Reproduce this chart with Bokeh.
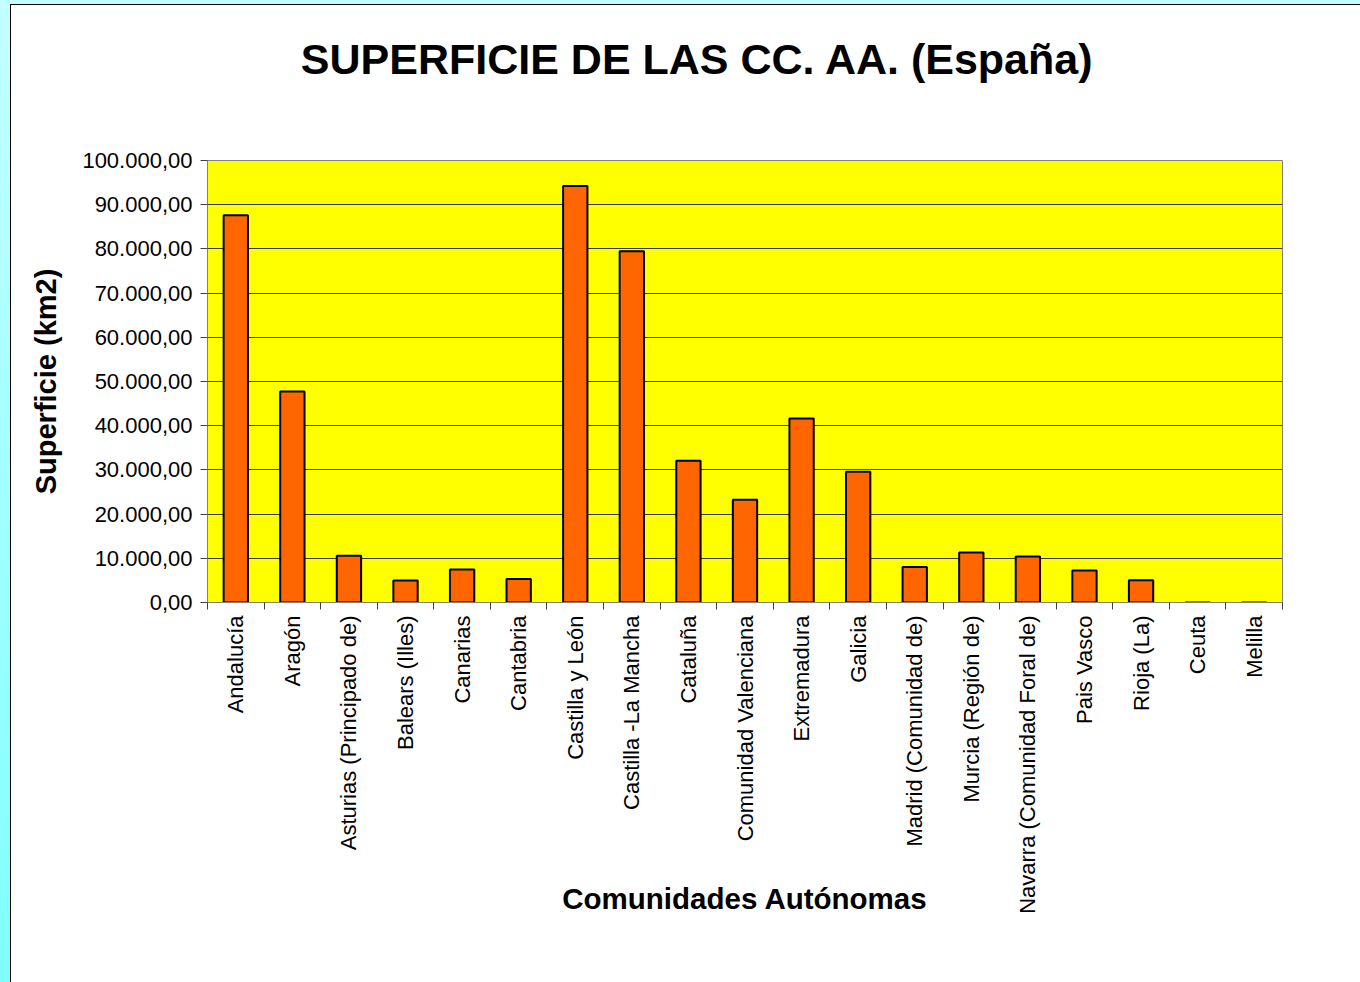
import math
from bokeh.plotting import figure
from bokeh.models import (Range1d, LinearAxis, FixedTicker, ColumnDataSource)
from bokeh.embed import file_html
from bokeh.resources import INLINE

comunidades = [
    "Andalucía", "Aragón", "Asturias (Principado de)", "Balears (Illes)",
    "Canarias", "Cantabria", "Castilla y León", "Castilla -La Mancha",
    "Cataluña", "Comunidad Valenciana", "Extremadura", "Galicia",
    "Madrid (Comunidad de)", "Murcia (Región de)",
    "Navarra (Comunidad Foral de)", "Pais Vasco", "Rioja (La)", "Ceuta",
    "Melilla",
]
superficie = [
    87597, 47720, 10604, 4992, 7447, 5321, 94226, 79461, 32091, 23255,
    41634, 29574, 8028, 11313, 10391, 7234, 5045, 19, 13,
]
y_ticks = [0, 10000, 20000, 30000, 40000, 50000, 60000, 70000, 80000, 90000, 100000]
y_tick_labels = ["0,00", "10.000,00", "20.000,00", "30.000,00", "40.000,00",
                 "50.000,00", "60.000,00", "70.000,00", "80.000,00",
                 "90.000,00", "100.000,00"]
titulo = "SUPERFICIE DE LAS CC. AA. (España)"
eje_x = "Comunidades Autónomas"
eje_y = "Superficie (km2)"

FONT = "Liberation Sans"
n = len(comunidades)
centers = [i + 0.5 for i in range(n)]
bounds = list(range(n + 1))
TITLE_X = 8.66  # horizontal centre of the title, in category units

W, H = 1360, 982
p = figure(
    x_range=Range1d(0, n),
    y_range=Range1d(0, 100000),
    width=W, height=H,
    output_backend="svg", toolbar_location=None,
    x_axis_location=None,
    min_border_left=207, min_border_right=78,
    min_border_top=160, min_border_bottom=380,
)

p.background_fill_color = "#FFFF00"
p.border_fill_color = "white"
p.border_fill_alpha = 0
p.styles = {
    "background": (
        "linear-gradient(#000,#000) 10px 4px / 1px 100% no-repeat, "
        "linear-gradient(#000,#000) 10px 4px / 100% 1px no-repeat, "
        "linear-gradient(to bottom, #C4FFFF, #80FFFF) 0 0 / 10px 100% no-repeat, "
        "linear-gradient(#C4FFFF,#C4FFFF) 0 0 / 100% 4px no-repeat, "
        "#FFFFFF"
    )
}
p.outline_line_color = "#808080"
p.outline_line_width = 1

p.xgrid.grid_line_color = None
p.ygrid.grid_line_color = "#3a3a3a"
p.ygrid.grid_line_width = 1
p.ygrid.ticker = FixedTicker(ticks=y_ticks)

# y axis
ya = p.yaxis[0]
ya.ticker = FixedTicker(ticks=y_ticks)
ya.major_label_overrides = dict(zip(y_ticks, y_tick_labels))
ya.major_label_text_font = FONT
ya.major_label_text_font_size = "22px"
ya.major_label_text_color = "black"
ya.major_label_standoff = 8
ya.major_tick_out = 7
ya.major_tick_in = 0
ya.major_tick_line_color = "#404040"
ya.minor_tick_line_color = None
ya.axis_line_color = "#808080"
ya.axis_label = eje_y
ya.axis_label_text_font = FONT
ya.axis_label_text_font_size = "29px"
ya.axis_label_text_font_style = "bold"
ya.axis_label_text_color = "black"
ya.axis_label_standoff = 17

# category axis: labels at centers, ticks (minor) at category boundaries
cat_axis = LinearAxis(ticker=FixedTicker(ticks=centers, minor_ticks=bounds))
cat_axis.major_label_overrides = dict(zip(centers, comunidades))
cat_axis.major_label_orientation = math.pi / 2
cat_axis.major_tick_line_color = None
cat_axis.major_tick_out = 7
cat_axis.major_tick_in = 0
cat_axis.minor_tick_out = 7
cat_axis.minor_tick_in = 0
cat_axis.minor_tick_line_color = "#404040"
cat_axis.axis_line_color = "#808080"
cat_axis.major_label_standoff = 6
cat_axis.major_label_text_font = FONT
cat_axis.major_label_text_font_size = "22px"
cat_axis.major_label_text_color = "black"
cat_axis.axis_label = eje_x
cat_axis.axis_label_text_font = FONT
cat_axis.axis_label_text_font_size = "29.5px"
cat_axis.axis_label_text_font_style = "bold"
cat_axis.axis_label_text_color = "black"
cat_axis.axis_label_standoff = -35
p.add_layout(cat_axis, "below")

# chart title, drawn as the single label of an axis above the frame
title_axis = LinearAxis(ticker=FixedTicker(ticks=[TITLE_X]))
title_axis.major_label_overrides = {TITLE_X: titulo}
title_axis.major_label_text_font = FONT
title_axis.major_label_text_font_size = "43px"
title_axis.major_label_text_font_style = "bold"
title_axis.major_label_text_color = "black"
title_axis.major_label_standoff = 78
title_axis.major_tick_out = 0
title_axis.major_tick_in = 0
title_axis.major_tick_line_color = None
title_axis.minor_tick_line_color = None
title_axis.axis_line_color = None
p.add_layout(title_axis, "above")

src = ColumnDataSource(dict(x=centers, val=superficie))
p.vbar(x="x", top="val", width=0.43, source=src,
       fill_color="#FF6600", line_color="black", line_width=2)

open("out.html", "w").write(file_html(p, INLINE))
